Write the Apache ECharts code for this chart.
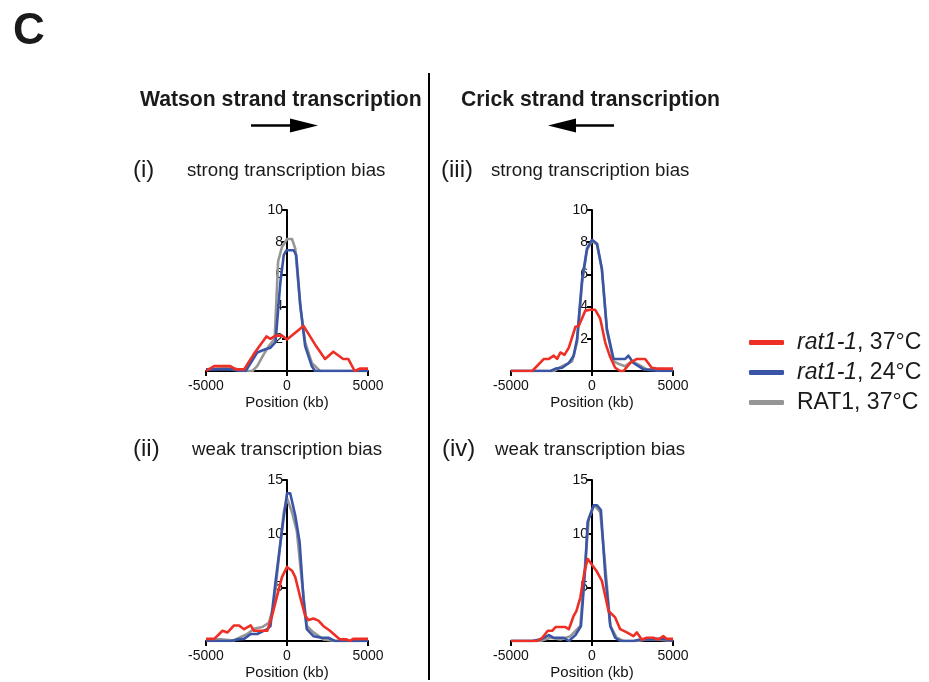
<!DOCTYPE html>
<html>
<head>
<meta charset="utf-8">
<script src="https://cdn.jsdelivr.net/npm/echarts@6/dist/echarts.min.js"></script>
<style>
html,body{margin:0;padding:0;background:#fff;}
#chart{width:929px;height:682px;}
</style>
</head>
<body>
<div id="chart"></div>
<script>
// ---- data (position in kb, signal) ----
const seriesNames = ['rat1-1, 37°C', 'rat1-1, 24°C', 'RAT1, 37°C'];
const xTicks = [-5000, 0, 5000];

// panel (i) Watson, strong bias
const i_red = [[-5000,0],[-4500,0.3],[-3500,0.3],[-3150,0.1],[-2650,0.1],[-2050,1.05],[-1270,2.15],[-1020,2.0],[-710,2.2],[-310,2.2],[0,1.95],[1020,2.8],[1730,1.65],[2350,0.75],[2860,1.2],[3470,0.75],[3780,0.75],[4180,0],[4490,0.15],[5000,0.15]];
const i_blue = [[-5000,0.1],[-3470,0.1],[-2860,0],[-2550,0],[-1840,1.15],[-1330,1.35],[-1020,1.45],[-710,1.8],[-410,5.5],[-200,7.2],[-40,7.5],[410,7.5],[570,7.2],[820,4.1],[1120,1.55],[1530,0.3],[1730,0],[5000,0]];
const i_gray = [[-5000,0.1],[-3500,0.2],[-3000,0.1],[-2550,0],[-2140,0],[-1840,0.3],[-1430,1.05],[-1120,1.55],[-760,2.0],[-550,6.8],[-310,7.7],[0,8.2],[310,8.2],[510,7.6],[820,4.0],[1120,1.8],[1530,0.5],[2040,0],[5000,0]];

// panel (ii) Watson, weak bias
const ii_red = [[-5000,0.2],[-4490,0.2],[-3980,0.95],[-3670,0.8],[-3270,1.45],[-2960,1.45],[-2650,1.1],[-2240,1.45],[-2040,0.95],[-1220,0.95],[-920,2.35],[-610,4.2],[-310,5.95],[0,6.9],[310,6.55],[510,5.95],[820,4.05],[1120,2.35],[1330,1.95],[1630,2.1],[1940,1.9],[2240,1.4],[2650,0.95],[3270,0.15],[3670,0.15],[3880,0],[4080,0.2],[5000,0.2]];
const ii_blue = [[-5000,0],[-3470,0],[-3060,0.15],[-2650,0.2],[-2240,0.65],[-1840,0.65],[-1220,1.1],[-1020,1.4],[-710,5.5],[-310,10.3],[0,13.75],[200,13.75],[510,11.7],[780,9.2],[1020,3.9],[1220,1.1],[1630,0.45],[2140,0.3],[2550,0.3],[2960,0],[5000,0]];
const ii_gray = [[-5000,0.15],[-4080,0.15],[-3300,0.05],[-2450,0.65],[-2040,1.15],[-1530,1.3],[-1120,1.7],[-820,3.3],[-200,12.0],[0,13.3],[310,12.0],[610,10.2],[920,5.5],[1220,1.4],[1630,0.8],[2240,0.15],[3000,0],[5000,0]];

// panel (iii) Crick, strong bias
const iii_red = [[-5000,0],[-3690,0],[-2970,0.75],[-2660,0.75],[-2360,0.95],[-2150,0.75],[-1950,1.15],[-1700,1.0],[-1430,1.45],[-1020,2.75],[-820,2.8],[-410,3.75],[-100,3.8],[200,3.8],[510,3.25],[820,1.75],[1130,0.85],[1430,0.2],[1740,0],[1950,0],[2360,0.5],[2770,0.75],[3280,0.75],[3690,0.2],[4000,0.15],[5000,0.15]];
const iii_blue = [[-5000,0],[-2560,0],[-2250,0.15],[-1840,0.2],[-1430,0.5],[-1130,0.95],[-920,2.0],[-610,5.7],[-310,7.6],[0,8.15],[310,7.9],[610,6.35],[920,2.6],[1330,0.75],[2050,0.75],[2250,0.95],[2560,0.5],[2870,0.3],[3180,0.1],[4200,0],[5000,0]];
const iii_gray = [[-5000,0],[-2360,0],[-1840,0.3],[-1230,0.6],[-920,1.8],[-610,5.5],[-310,7.5],[0,8.1],[310,7.85],[610,6.3],[920,2.5],[1330,0.6],[1740,0.4],[2050,0.3],[2460,0.6],[2870,0.4],[3380,0.1],[4400,0.1],[5000,0.1]];

// panel (iv) Crick, weak bias
const iv_red = [[-5000,0],[-3380,0],[-3070,0.3],[-2730,0.95],[-2460,0.95],[-2250,1.3],[-1640,1.3],[-1430,1.1],[-1130,2.35],[-960,2.8],[-720,4.05],[-470,6.4],[-270,7.65],[0,7.1],[310,6.45],[610,5.6],[820,4.2],[1020,2.8],[1430,2.2],[1740,1.1],[2150,0.8],[2560,0.45],[2770,0.8],[3070,0.15],[3380,0.3],[3790,0.3],[4100,0.15],[4410,0.45],[4610,0.2],[5000,0.2]];
const iv_blue = [[-5000,0],[-3690,0],[-3180,0.15],[-2660,0.55],[-2360,0.3],[-1740,0.3],[-1430,0],[-1020,0.55],[-680,1.4],[-410,7.0],[-270,11.1],[100,12.65],[310,12.65],[550,12.2],[820,6.1],[1130,1.4],[1430,0.3],[1740,0],[2560,0],[2970,0.15],[3590,0.15],[4000,0.2],[4610,0.15],[5000,0]];
const iv_gray = [[-5000,0],[-3200,0],[-2560,0.3],[-1950,0.15],[-1330,0.45],[-720,1.4],[-510,5.5],[-200,11.4],[140,12.65],[510,12.0],[820,7.0],[1130,1.4],[1530,0.3],[1940,0],[2770,0],[3380,0.15],[4000,0.15],[5000,0]];

const yMaxStrong = 10, yStepStrong = 2;
const yMaxWeak = 15, yStepWeak = 5;

// ---- chart ----
const FONT = '"Liberation Sans", Arial, Helvetica, sans-serif';
const colors = { red: '#ee2f25', blue: '#3a55a5', gray: '#969696' };

const panels = [
  { grid: { left: 206, top: 210, width: 162, height: 161 }, yMax: yMaxStrong, yStep: yStepStrong, red: i_red, blue: i_blue, gray: i_gray },
  { grid: { left: 206, top: 480, width: 162, height: 161 }, yMax: yMaxWeak, yStep: yStepWeak, red: ii_red, blue: ii_blue, gray: ii_gray },
  { grid: { left: 511, top: 210, width: 162, height: 161 }, yMax: yMaxStrong, yStep: yStepStrong, red: iii_red, blue: iii_blue, gray: iii_gray },
  { grid: { left: 511, top: 480, width: 162, height: 161 }, yMax: yMaxWeak, yStep: yStepWeak, red: iv_red, blue: iv_blue, gray: iv_gray }
];

const axisLine = { show: true, onZero: true, lineStyle: { color: '#000', width: 2 } };
const grids = [], xAxes = [], yAxes = [], series = [];
panels.forEach((p, k) => {
  grids.push(p.grid);
  xAxes.push({
    type: 'value', gridIndex: k, min: xTicks[0], max: xTicks[2], interval: 5000,
    axisLine: axisLine,
    axisTick: { show: true, length: 5, lineStyle: { color: '#000', width: 2 } },
    axisLabel: { fontSize: 14, color: '#111', margin: 8, fontFamily: FONT, formatter: v => String(v) },
    splitLine: { show: false },
    name: 'Position (kb)', nameLocation: 'middle', nameGap: 24,
    nameTextStyle: { fontSize: 15, color: '#111', fontFamily: FONT }
  });
  yAxes.push({
    type: 'value', gridIndex: k, min: 0, max: p.yMax, interval: p.yStep,
    axisLine: axisLine,
    axisTick: { show: true, length: 5, lineStyle: { color: '#000', width: 2 } },
    axisLabel: { fontSize: 14, color: '#111', margin: -77, fontFamily: FONT,
      formatter: v => (v === 0 ? '' : String(v)) },
    splitLine: { show: false }
  });
  const mk = (name, data, color) => ({
    type: 'line', name: name, xAxisIndex: k, yAxisIndex: k, data: data,
    showSymbol: false, symbol: 'none', smooth: false,
    lineStyle: { color: color, width: 2.6, join: 'round' },
    itemStyle: { color: color },
    emphasis: { disabled: true }, animation: false
  });
  series.push(mk(seriesNames[2], p.gray, colors.gray));
  series.push(mk(seriesNames[1], p.blue, colors.blue));
  series.push(mk(seriesNames[0], p.red, colors.red));
});

const txt = (text, x, y, size, weight, align) => ({
  type: 'text', x: x, y: y,
  style: { text: text, fontSize: size, fontWeight: weight || 'normal', fontFamily: FONT,
           fill: '#1a1a1a', textAlign: align || 'left', textVerticalAlign: 'middle' }
});

const graphic = [
  txt('C', 13, 32, 44, 'bold'),
  txt('Watson strand transcription', 140, 100, 21.2, 'bold'),
  txt('Crick strand transcription', 461, 100, 21.2, 'bold'),
  txt('(i)', 133, 170, 24),
  txt('strong transcription bias', 187, 171, 18.7),
  txt('(ii)', 133, 449, 24),
  txt('weak transcription bias', 192, 450, 18.7),
  txt('(iii)', 441, 170, 24),
  txt('strong transcription bias', 491, 171, 18.7),
  txt('(iv)', 442, 449, 24),
  txt('weak transcription bias', 495, 450, 18.7),
  { type: 'line', shape: { x1: 429, y1: 73, x2: 429, y2: 680 }, style: { stroke: '#000', lineWidth: 2 } },
  { type: 'line', shape: { x1: 251, y1: 125.5, x2: 293, y2: 125.5 }, style: { stroke: '#000', lineWidth: 2.5 } },
  { type: 'polygon', shape: { points: [[290, 118.5], [318, 125.5], [290, 132.5]] }, style: { fill: '#000' } },
  { type: 'line', shape: { x1: 573, y1: 125.5, x2: 614, y2: 125.5 }, style: { stroke: '#000', lineWidth: 2.5 } },
  { type: 'polygon', shape: { points: [[576, 118.5], [548, 125.5], [576, 132.5]] }, style: { fill: '#000' } }
];

const chart = echarts.init(document.getElementById('chart'), null, { renderer: 'canvas' });
chart.setOption({
  animation: false,
  backgroundColor: '#fff',
  grid: grids,
  xAxis: xAxes,
  yAxis: yAxes,
  series: series,
  graphic: graphic,
  legend: {
    data: seriesNames,
    orient: 'vertical', left: 744, top: 326,
    icon: 'roundRect', itemWidth: 35, itemHeight: 5, itemGap: 7,
    selectedMode: false,
    formatter: name => {
      if (name.indexOf('rat1-1') === 0) return '{it|rat1-1}{n|' + name.slice(6) + '}';
      return '{n|' + name + '}';
    },
    textStyle: {
      fontSize: 23, color: '#1a1a1a', fontFamily: FONT, padding: [0, 0, 0, 8],
      rich: {
        it: { fontSize: 23, fontStyle: 'italic', fontFamily: FONT, color: '#1a1a1a', lineHeight: 22 },
        n: { fontSize: 23, fontFamily: FONT, color: '#1a1a1a', lineHeight: 22 }
      }
    }
  }
});
</script>
</body>
</html>
